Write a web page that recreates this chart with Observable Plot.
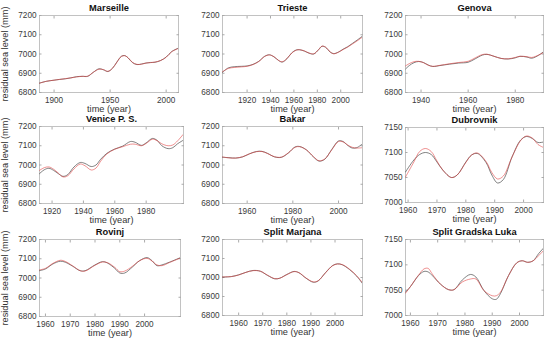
<!DOCTYPE html>
<html><head><meta charset="utf-8">
<script src="https://cdn.jsdelivr.net/npm/d3@7"></script>
<script src="https://cdn.jsdelivr.net/npm/@observablehq/plot@0.6"></script>
<style>
body{margin:0;background:#fff}
#wrap{position:relative;width:550px;height:346px;overflow:hidden;font-family:"Liberation Sans",Arial,sans-serif}
</style></head><body><div id="wrap"></div>
<script>
// ---- data ----
const stations = ["Marseille","Trieste","Genova","Venice P. S.","Bakar","Dubrovnik","Rovinj","Split Marjana","Split Gradska Luka"];

const marseilleYears = [1887,1893,1900,1905,1910,1915,1920,1925,1930,1935,1940,1944,1948,1952,1956,1960,1963,1966,1970,1974,1978,1982,1986,1990,1995,2000,2005,2011];
const marseilleBlack = [6849,6858,6864,6868,6871,6876,6882,6884,6884,6905,6923,6918,6909,6925,6958,6988,6992,6980,6955,6945,6948,6953,6956,6957,6966,6984,7013,7031];
const marseilleRed   = [6848,6858,6864,6868,6872,6876,6881,6884,6885,6905,6921,6919,6910,6925,6957,6987,6991,6981,6956,6946,6947,6953,6955,6958,6966,6983,7012,7029];

const triesteYears = [1899,1904,1909,1915,1920,1925,1930,1935,1939,1943,1947,1950,1954,1958,1962,1965,1969,1973,1977,1981,1984,1987,1991,1994,1998,2002,2006,2010,2014,2018.6];
const triesteBlack = [6905,6928,6934,6936,6938,6946,6962,6988,6996,6985,6966,6958,6975,7005,7021,7022,7015,7004,7000,7022,7040,7035,7010,7002,7010,7025,7038,7055,7072,7093];
const triesteRed   = [6908,6925,6930,6933,6936,6945,6961,6987,6995,6986,6966,6960,6976,7004,7020,7022,7016,7005,7001,7022,7041,7036,7011,7001,7009,7023,7036,7052,7068,7088];

const genovaYears = [1933.4,1935,1937,1939,1941,1943,1945,1948,1952,1956,1960,1963,1966,1968,1971,1974,1977,1980,1982,1985,1987,1990,1992];
const genovaBlack = [6922,6940,6955,6961,6956,6943,6935,6940,6947,6953,6957,6975,6994,6998,6988,6977,6974,6980,6988,6984,6978,6994,7012];
const genovaRed   = [6938,6950,6960,6962,6955,6942,6936,6941,6949,6956,6962,6980,6997,6999,6988,6977,6975,6982,6988,6986,6982,6995,7008];

const veniceYears = [1912,1915,1918,1921,1924,1927,1930,1934,1938,1941,1945,1948,1951,1955,1960,1965,1970,1973,1977,1980,1984,1987,1990,1994,1997,2000,2003.5];
const veniceBlack = [6955,6975,6983,6972,6955,6941,6950,6990,7013,7008,6992,7000,7030,7061,7083,7098,7122,7118,7102,7115,7138,7128,7100,7085,7090,7110,7128];
const veniceRed   = [6972,6986,6990,6978,6958,6938,6944,6980,7005,6996,6974,6984,7020,7058,7082,7095,7108,7108,7100,7112,7134,7126,7110,7100,7104,7125,7158];

const bakarYears = [1949.2,1952,1955,1958,1961,1964,1966.5,1969,1972,1975,1978,1981,1983,1986,1989,1991.5,1994,1997,2000,2002,2004,2006,2008,2010.5];
const bakarBlack = [7040,7038,7036,7042,7058,7070,7071,7060,7042,7040,7062,7094,7096,7078,7042,7020,7030,7080,7125,7122,7102,7088,7090,7110];
const bakarRed   = [7042,7037,7036,7043,7058,7069,7070,7059,7043,7041,7063,7092,7095,7078,7044,7022,7032,7078,7122,7120,7104,7092,7088,7090];

const dubrovnikYears = [1959.1,1962,1964,1966,1968,1970,1972,1975,1977,1980,1982,1984,1987,1989,1991,1993,1996,1999,2001,2003,2005,2006.9];
const dubrovnikBlack = [7061,7085,7096,7100,7096,7081,7065,7050,7055,7081,7095,7098,7080,7055,7039,7046,7091,7125,7132,7128,7120,7121];
const dubrovnikRed   = [7051,7081,7102,7108,7102,7083,7065,7050,7055,7080,7095,7099,7082,7060,7047,7053,7091,7124,7133,7129,7116,7110];

const rovinjYears = [1957.6,1960,1963,1966,1968,1971,1974,1976,1980,1983,1985,1988,1990,1992,1995,1998,2001,2003,2005,2007,2010,2014.5];
const rovinjBlack = [7038,7047,7073,7087,7082,7061,7038,7038,7068,7085,7078,7050,7026,7026,7056,7090,7106,7090,7064,7068,7082,7106];
const rovinjRed   = [7042,7050,7076,7092,7086,7063,7038,7036,7066,7083,7080,7055,7033,7036,7060,7090,7102,7088,7068,7064,7080,7104];

const marjanaYears = [1953.3,1957,1960,1963,1966,1969,1972,1975,1977,1980,1983,1985,1988,1991,1993,1996,1999,2001,2003,2006,2009,2011.4];
const marjanaBlack = [7002,7005,7014,7027,7037,7033,7011,6993,6996,7016,7032,7025,6996,6975,6982,7025,7063,7072,7067,7042,7007,6968];
const marjanaRed   = [7003,7005,7013,7027,7036,7033,7012,6994,6996,7015,7031,7026,6997,6977,6983,7024,7062,7071,7068,7044,7009,6972];

const gradskaYears = [1958.2,1960,1963,1965,1966.5,1968,1971,1974,1976,1979,1982,1984,1987,1990,1991.5,1993,1996,1999,2001,2003,2005,2007,2008.8];
const gradskaBlack = [7046,7057,7079,7087,7086,7079,7062,7051,7051,7070,7081,7076,7049,7033,7032,7043,7079,7104,7108,7105,7108,7122,7133];
const gradskaRed   = [7044,7057,7080,7092,7093,7082,7062,7051,7051,7066,7072,7072,7049,7039,7039,7046,7079,7104,7108,7105,7108,7118,7128];

const yTicksWide = [6800,6900,7000,7100,7200];
const yTicksNarrow = [7000,7050,7100,7150];
const marseilleXTicks = [1900,1950,2000];
const triesteXTicks = [1920,1940,1960,1980,2000];
const genovaXTicks = [1940,1960,1980];
const veniceXTicks = [1920,1940,1960,1980];
const bakarXTicks = [1960,1980,2000];
const decadeXTicks = [1960,1970,1980,1990,2000];

const xLabel = "time (year)";
const yLabel = "residual sea level (mm)";

// ---- panel config (scales / layout) ----
const panels = [
  {name: stations[0], yrs: marseilleYears, blk: marseilleBlack, red: marseilleRed, xd:[1887,2011], yd:[6800,7200], xt: marseilleXTicks, yt: yTicksWide, box:[39,178,15,92], col:0},
  {name: stations[1], yrs: triesteYears, blk: triesteBlack, red: triesteRed, xd:[1899,2018.6], yd:[6800,7200], xt: triesteXTicks, yt: yTicksWide, box:[222,362,15,92], col:1},
  {name: stations[2], yrs: genovaYears, blk: genovaBlack, red: genovaRed, xd:[1933.4,1992], yd:[6800,7200], xt: genovaXTicks, yt: yTicksWide, box:[405,543,15,92], col:2},
  {name: stations[3], yrs: veniceYears, blk: veniceBlack, red: veniceRed, xd:[1912,2003.8], yd:[6800,7200], xt: veniceXTicks, yt: yTicksWide, box:[39,183,126,203], col:0},
  {name: stations[4], yrs: bakarYears, blk: bakarBlack, red: bakarRed, xd:[1949.2,2010.5], yd:[6800,7200], xt: bakarXTicks, yt: yTicksWide, box:[222,362,126,203], col:1},
  {name: stations[5], yrs: dubrovnikYears, blk: dubrovnikBlack, red: dubrovnikRed, xd:[1959.1,2006.9], yd:[7000,7150], xt: decadeXTicks, yt: yTicksNarrow, box:[405,543,127,202], col:2},
  {name: stations[6], yrs: rovinjYears, blk: rovinjBlack, red: rovinjRed, xd:[1957.6,2014.5], yd:[6800,7200], xt: decadeXTicks, yt: yTicksWide, box:[39,180,239,316], col:0},
  {name: stations[7], yrs: marjanaYears, blk: marjanaBlack, red: marjanaRed, xd:[1953.3,2011.4], yd:[6800,7200], xt: decadeXTicks, yt: yTicksWide, box:[222,362,239,315], col:1},
  {name: stations[8], yrs: gradskaYears, blk: gradskaBlack, red: gradskaRed, xd:[1958.2,2008.8], yd:[7000,7150], xt: decadeXTicks, yt: yTicksNarrow, box:[405,543,239,315], col:2}
];

const wrap = document.getElementById("wrap");
const FONT = '"Liberation Sans", Arial, Helvetica, sans-serif';

for (const p of panels) {
  const [l, r, t, b] = p.box;
  const mL = p.col === 0 ? l : 36, mR = 6, mT = 16, mB = 30;
  const W = mL + (r - l) + mR, H = mT + (b - t) + mB;
  const marks = [
    Plot.frame({stroke: "#b3b3b3", strokeWidth: 0.8}),
    Plot.axisX(p.xt, {anchor: "bottom", tickSize: 0, tickPadding: 5, tickFormat: "d", label: null, fontSize: 8.2, fill: "#3a3a3a"}),
    Plot.axisX(p.xt, {anchor: "bottom", tickSize: -2.5, text: null, label: null, stroke: "#aaa"}),
    Plot.axisX(p.xt, {anchor: "top", tickSize: -2.5, text: null, label: null, stroke: "#aaa"}),
    Plot.axisY(p.yt, {anchor: "left", tickSize: 0, tickPadding: 3, tickFormat: "d", label: null, fontSize: 8.2, fill: "#3a3a3a"}),
    Plot.axisY(p.yt, {anchor: "left", tickSize: -2.5, text: null, label: null, stroke: "#aaa"}),
    Plot.axisY(p.yt, {anchor: "right", tickSize: -2.5, text: null, label: null, stroke: "#aaa"}),
    Plot.lineY(p.blk, {x: p.yrs, curve: "catmull-rom", stroke: "#444", strokeWidth: 0.75, strokeOpacity: 0.9, clip: true}),
    Plot.lineY(p.red, {x: p.yrs, curve: "catmull-rom", stroke: "#e03a3a", strokeWidth: 0.7, strokeOpacity: 0.8, clip: true}),
    Plot.text([p.name], {text: d => d, frameAnchor: "top", lineAnchor: "middle", dy: -7.5, fontWeight: "bold", fontSize: 9.3, fill: "#111"}),
    Plot.text([xLabel], {text: d => d, frameAnchor: "bottom", lineAnchor: "middle", dy: 16.5, fontSize: 9.2, fill: "#333"})
  ];
  if (p.col === 0) {
    marks.push(Plot.text([yLabel], {text: d => d, frameAnchor: "left", lineAnchor: "middle", dx: -34.5, rotate: -90, textAnchor: "middle", fontSize: 9.2, fill: "#333"}));
  }
  const svg = Plot.plot({
    width: W, height: H,
    marginLeft: mL, marginRight: mR, marginTop: mT, marginBottom: mB,
    x: {domain: p.xd, axis: null},
    y: {domain: p.yd, axis: null},
    style: {position: "absolute", left: (l - mL) + "px", top: (t - mT) + "px", fontFamily: FONT, background: "transparent", overflow: "visible"},
    marks
  });
  wrap.appendChild(svg);
}
</script></body></html>
